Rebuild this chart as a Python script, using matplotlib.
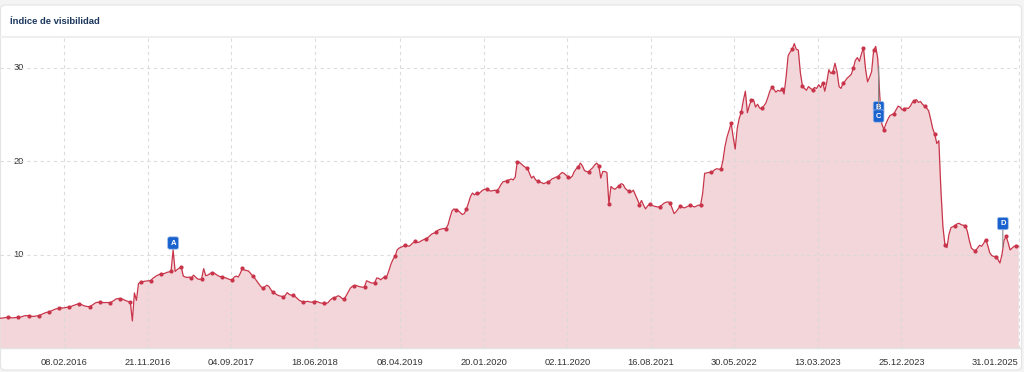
import numpy as np
import pandas as pd
import matplotlib
matplotlib.use("Agg")
import matplotlib.pyplot as plt
import matplotlib.dates as mdates
from matplotlib.patches import FancyBboxPatch
from matplotlib.lines import Line2D
from matplotlib.transforms import IdentityTransform

plt.rcParams['font.family'] = ['Liberation Sans', 'DejaVu Sans']

# Weekly visibility index (first week: 02.07.2015)
start_date = "2015-07-02"
head_values = [3.18, 3.2, 3.24, 3.27]
# one row per 5 weeks; the first value of each row carries a marker
weekly_rows = [
    [3.28, 3.26, 3.22, 3.25, 3.27],
    [3.28, 3.30, 3.38, 3.45, 3.47],
    [3.46, 3.42, 3.38, 3.40, 3.44],
    [3.46, 3.55, 3.65, 3.75, 3.82],
    [3.86, 3.95, 4.05, 4.15, 4.22],
    [4.25, 4.30, 4.28, 4.32, 4.36],
    [4.39, 4.45, 4.55, 4.62, 4.70],
    [4.72, 4.65, 4.55, 4.48, 4.44],
    [4.43, 4.55, 4.70, 4.85, 4.90],
    [4.90, 4.88, 4.86, 4.87, 4.86],
    [4.86, 4.95, 5.10, 5.25, 5.30],
    [5.29, 5.25, 5.15, 5.05, 4.98],
    [4.93, 2.90, 5.90, 5.10, 6.90],
    [7.04, 7.10, 7.15, 7.18, 7.20],
    [7.21, 7.45, 7.60, 7.75, 7.85],
    [7.93, 7.95, 8.00, 8.10, 8.15],
    [8.22, 10.5, 8.20, 8.40, 8.55],
    [8.68, 7.70, 7.60, 7.55, 7.60],
    [7.50, 7.80, 7.60, 7.40, 7.35],
    [7.40, 8.50, 7.75, 7.80, 7.95],
    [8.07, 8.05, 7.90, 7.75, 7.65],
    [7.60, 7.55, 7.50, 7.40, 7.33],
    [7.29, 7.60, 7.70, 7.60, 8.00],
    [8.54, 8.35, 8.30, 8.25, 8.00],
    [7.75, 7.50, 7.20, 6.90, 6.60],
    [6.43, 6.55, 6.72, 6.60, 6.25],
    [5.97, 5.85, 5.70, 5.60, 5.55],
    [5.50, 5.60, 5.93, 5.75, 5.65],
    [5.64, 5.50, 5.30, 5.10, 5.00],
    [4.90, 4.95, 5.00, 4.95, 4.90],
    [4.97, 5.00, 4.95, 4.85, 4.80],
    [4.82, 4.75, 4.85, 5.10, 5.30],
    [5.39, 5.45, 5.60, 5.50, 5.30],
    [5.25, 5.60, 6.00, 6.40, 6.60],
    [6.64, 6.70, 6.60, 6.55, 6.50],
    [6.57, 7.20, 7.10, 7.00, 6.95],
    [7.00, 7.50, 7.45, 7.30, 7.50],
    [7.64, 7.70, 8.30, 9.00, 9.50],
    [9.80, 10.5, 10.7, 10.8, 10.9],
    [11.07, 10.95, 10.9, 11.1, 11.3],
    [11.43, 11.3, 11.35, 11.5, 11.6],
    [11.68, 11.8, 12.0, 12.2, 12.3],
    [12.4, 12.6, 12.7, 12.75, 12.8],
    [12.79, 13.2, 14.0, 14.7, 14.9],
    [14.76, 14.7, 14.5, 14.3, 14.4],
    [14.86, 15.5, 16.2, 16.6, 16.4],
    [16.61, 16.5, 16.7, 16.9, 17.0],
    [17.0, 16.9, 16.8, 16.85, 16.9],
    [16.86, 17.1, 17.5, 17.8, 17.85],
    [17.9, 18.0, 18.1, 18.0, 18.3],
    [19.94, 19.9, 19.7, 19.5, 19.35],
    [19.26, 18.7, 18.2, 18.4, 18.0],
    [17.9, 17.8, 17.7, 17.6, 17.7],
    [17.76, 17.9, 18.1, 18.2, 18.3],
    [18.33, 18.6, 18.8, 18.7, 18.5],
    [18.33, 18.2, 18.4, 18.9, 19.2],
    [19.4, 19.8, 19.5, 19.0, 18.9],
    [18.86, 19.1, 19.3, 19.6, 19.8],
    [19.54, 18.2, 18.9, 18.9, 18.8],
    [15.43, 17.3, 17.1, 17.0, 17.2],
    [17.36, 17.6, 17.5, 17.1, 16.9],
    [16.79, 16.7, 16.9, 16.4, 15.9],
    [15.36, 15.8, 15.3, 14.9, 15.2],
    [15.43, 15.3, 15.2, 15.15, 15.1],
    [15.14, 15.3, 15.5, 15.6, 15.65],
    [15.57, 15.0, 14.4, 14.6, 14.9],
    [15.2, 15.1, 15.0, 15.1, 15.2],
    [15.3, 15.2, 15.1, 15.2, 15.3],
    [15.3, 16.5, 18.7, 18.75, 18.8],
    [18.8, 18.9, 19.1, 19.2, 19.15],
    [19.13, 20.1, 21.6, 22.6, 23.3],
    [24.1, 22.6, 21.3, 23.5, 24.6],
    [25.25, 26.5, 27.5, 25.2, 26.0],
    [26.55, 26.6, 25.8, 26.1, 25.7],
    [25.65, 25.9, 26.2, 26.8, 27.5],
    [27.9, 27.7, 27.4, 27.6, 27.5],
    [27.7, 27.2, 29.0, 31.3, 31.7],
    [31.97, 32.6, 32.0, 31.9, 29.5],
    [28.1, 27.8, 27.6, 28.0, 27.8],
    [27.65, 27.9, 27.8, 28.2, 27.9],
    [28.4, 27.5, 28.5, 29.8, 29.4],
    [29.58, 30.5, 29.6, 28.0, 27.8],
    [28.4, 28.6, 28.9, 29.1, 29.3],
    [29.97, 30.8, 31.1, 30.7, 31.5],
    [32.15, 29.9, 28.5, 29.0, 29.6],
    [31.9, 32.3, 31.0, 27.0, 24.0],
    [23.4, 24.0, 24.5, 24.9, 25.0],
    [25.1, 25.5, 25.9, 25.8, 25.5],
    [25.6, 25.7, 25.65, 25.9, 26.3],
    [26.47, 26.6, 26.3, 26.4, 26.1],
    [25.9, 25.7, 25.4, 24.5, 23.5],
    [22.9, 21.9, 22.2, 17.0, 13.0],
    [11.04, 10.75, 12.2, 12.9, 13.0],
    [13.1, 13.3, 13.35, 13.2, 13.15],
    [13.1, 12.5, 11.5, 10.7, 10.5],
    [10.43, 10.7, 11.0, 10.9, 11.2],
    [11.61, 11.0, 10.2, 9.9, 9.8],
    [9.75, 9.5, 9.1, 10.0, 11.5],
    [11.97, 11.3, 10.5, 10.7, 10.9],
    [10.93, 10.9],
]

tick_labels = ["08.02.2016", "21.11.2016", "04.09.2017", "18.06.2018",
               "08.04.2019", "20.01.2020", "02.11.2020", "16.08.2021",
               "30.05.2022", "13.03.2023", "25.12.2023", "31.01.2025"]
y_ticks = [10, 20, 30]

event_labels = ["A", "B", "C", "D"]
event_dates = ["2017-02-16", "2023-10-08", "2023-10-08", "2024-12-08"]
event_values = [10.5, 30.2, 30.2, 10.8]

# ---- build series
values = list(head_values)
for row in weekly_rows:
    values.extend(row)
values = np.array(values)
dates = pd.date_range(start_date, periods=len(values), freq="7D")
marker_idx = np.arange(len(head_values), len(values), 5)

line_color = "#c8354a"
fill_color = "#f3d6da"
grid_color = "#d9d9d9"
box_color = "#1a63cf"

W, H = 1024, 372
fig = plt.figure(figsize=(W / 100, H / 100), dpi=100, facecolor="#f4f4f5")

# card
card = FancyBboxPatch((0.5, 2), 1021, 365, boxstyle="round,pad=0,rounding_size=5",
                      transform=IdentityTransform(), facecolor="white",
                      edgecolor="#e4e4e4", linewidth=0.8, zorder=0)
fig.add_artist(card)
fig.add_artist(Line2D([1, 1021], [H - 37, H - 37], transform=IdentityTransform(),
                      color="#efefef", linewidth=1.5))
fig.text(10 / W, 1 - 21 / H, "Índice de visibilidad", fontsize=6.8,
         fontweight="bold", color="#1b365d", va="center", ha="left")

ax = fig.add_axes([0, 24 / H, 1020 / W, 310 / H])
ax.set_facecolor("none")

x0 = pd.Timestamp(start_date)
ax.set_xlim(mdates.date2num(x0), mdates.date2num(x0 + pd.Timedelta(days=3506)))
ax.set_ylim(0, 33.2)

ax.fill_between(dates, values, 0, color=fill_color, linewidth=0, zorder=1)
ax.plot(dates, values, color=line_color, linewidth=0.9, zorder=3)
ax.plot(dates[marker_idx], values[marker_idx], "o", color=line_color,
        markersize=3.0, markeredgewidth=0, zorder=4)

# grid
tick_dates = pd.to_datetime(tick_labels, format="%d.%m.%Y")
ax.set_xticks(tick_dates)
ax.set_xticklabels(tick_labels)
ax.set_yticks(y_ticks)
ax.set_yticklabels([str(v) for v in y_ticks])
for d in tick_dates:
    ax.axvline(d, color=grid_color, linestyle=(0, (3, 3)), linewidth=0.8, zorder=2, alpha=0.9)
for v in y_ticks:
    ax.axhline(v, color=grid_color, linestyle=(0, (3, 3)), linewidth=0.8, zorder=2, alpha=0.9)

ax.tick_params(axis="x", length=0, pad=7, labelsize=6.7, labelcolor="#333333")
ax.tick_params(axis="y", length=0, pad=-17, labelsize=6.7, labelcolor="#333333")
ax.get_xticklabels()[-1].set_ha("right")
for lbl in ax.get_yticklabels():
    lbl.set_va("center")

for s in ["top", "left", "right"]:
    ax.spines[s].set_visible(False)
ax.spines["bottom"].set_color("#e2e2e2")
ax.spines["bottom"].set_linewidth(1.0)

# event flags
offsets = {"A": 5, "B": -30, "C": -36, "D": 17}
for lab, d, v in zip(event_labels, event_dates, event_values):
    ax.annotate(lab, xy=(pd.Timestamp(d), v), xytext=(0, offsets[lab]),
                textcoords="offset points", ha="center", va="center",
                fontsize=5.5, fontweight="bold", color="white", zorder=6,
                bbox=dict(boxstyle="round,pad=0.35,rounding_size=0.25",
                          fc=box_color, ec="#9fbde8", lw=0.5),
                arrowprops=dict(arrowstyle="-", color="#8a8a8a", lw=0.8,
                                shrinkA=0, shrinkB=0))

fig.savefig("out.png", dpi=100, facecolor=fig.get_facecolor())
